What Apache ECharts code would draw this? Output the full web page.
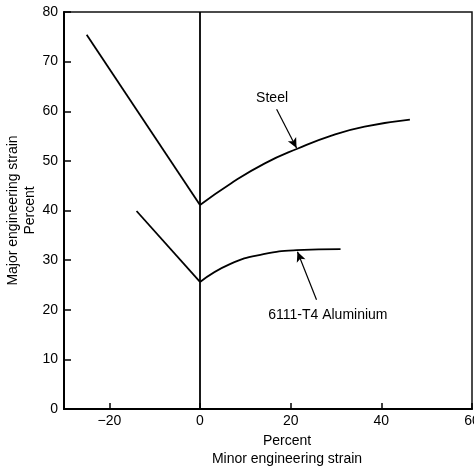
<!DOCTYPE html>
<html>
<head>
<meta charset="utf-8">
<script src="https://cdn.jsdelivr.net/npm/echarts@6/dist/echarts.min.js"></script>
<style>html,body{margin:0;padding:0;background:#fff;}#c{width:474px;height:468px;}</style>
</head>
<body>
<div id="c"></div>
<script>
// Data
const steelLeft = [[-25.0, 75.4], [0, 41.1]];
const steelRight = [[0, 41.1], [6.9, 45.5], [14.3, 49.5], [21.6, 52.5], [29.0, 55.1], [36.3, 56.9], [46.3, 58.3]];
const aluLeft = [[-14.0, 39.9], [0, 25.6]];
const aluRight = [[0, 25.6], [6.6, 29.2], [14.0, 31.2], [21.3, 32.0], [31.0, 32.2]];
const zeroLine = [[0, 0], [0, 80]];
const steelArrow = [[16.9, 60.4], [21.3, 52.6]];
const aluArrow = [[25.7, 22.0], [21.5, 31.7]];
const steelLabel = {text: 'Steel', pos: [15.9, 62.7]};
const aluLabel = {text: '6111-T4 Aluminium', pos: [28.2, 18.9]};
const xTicks = [-20, 0, 20, 40, 60];
const yTicks = [0, 10, 20, 30, 40, 50, 60, 70, 80];

const FONT = "'Liberation Sans', Arial, Helvetica, sans-serif";
const lineStyle = {color: '#000', width: 1.8};

function curve(name, data, smooth) {
  return {name, type: 'line', data, smooth, symbol: 'none', lineStyle, silent: true, z: 3};
}

const chart = echarts.init(document.getElementById('c'), null, {renderer: 'canvas'});
chart.setOption({
  animation: false,
  backgroundColor: '#fff',
  grid: {left: 64, right: 2, top: 12, bottom: 59, containLabel: false, outerBoundsMode: 'none',
    show: true, borderColor: '#111', borderWidth: 1.5, backgroundColor: 'transparent'},
  xAxis: {
    type: 'value', min: -30, max: 60,
    name: 'Percent\nMinor engineering strain',
    nameLocation: 'middle', nameGap: 23, nameMoveOverlap: false,
    nameTextStyle: {fontFamily: FONT, fontSize: 14, color: '#000', lineHeight: 18, padding: [0, 0, 0, 38]},
    axisLine: {show: true, onZero: false, lineStyle: {color: '#000', width: 2}},
    axisTick: {show: true, inside: true, length: 6, customValues: xTicks, lineStyle: {color: '#000', width: 1.5}},
    axisLabel: {customValues: xTicks, margin: 5, fontFamily: FONT, fontSize: 14, color: '#000',
      formatter: v => String(v).replace('-', '\u2212')},
    splitLine: {show: false}
  },
  yAxis: {
    type: 'value', min: 0, max: 80, interval: 10,
    name: 'Major engineering strain\nPercent',
    nameLocation: 'middle', nameGap: 25, nameMoveOverlap: false,
    nameTextStyle: {fontFamily: FONT, fontSize: 14, color: '#000', lineHeight: 17},
    axisLine: {show: true, onZero: false, lineStyle: {color: '#000', width: 2}},
    axisTick: {show: true, inside: true, length: 7, lineStyle: {color: '#000', width: 1.5}},
    axisLabel: {margin: 6, fontFamily: FONT, fontSize: 14, color: '#000'},
    splitLine: {show: false}
  },
  series: [
    curve('zero', zeroLine, false),
    curve('steelLeft', steelLeft, false),
    curve('steelRight', steelRight, 0.5),
    curve('aluLeft', aluLeft, false),
    curve('aluRight', aluRight, 0.5),
    {
      type: 'line', data: [], symbol: 'none', silent: true,
      markLine: {
        silent: true, animation: false,
        symbol: ['none', 'arrow'], symbolSize: [7, 10],
        lineStyle: {color: '#000', width: 1.2, type: 'solid'},
        label: {show: false},
        data: [
          [{coord: steelArrow[0]}, {coord: steelArrow[1]}],
          [{coord: aluArrow[0]}, {coord: aluArrow[1]}]
        ]
      },
      markPoint: {
        silent: true, animation: false,
        symbol: 'rect', symbolSize: 1, itemStyle: {color: 'transparent'},
        label: {show: true, position: 'inside', fontFamily: FONT, fontSize: 14, color: '#000',
          formatter: p => p.name},
        data: [
          {name: steelLabel.text, coord: steelLabel.pos},
          {name: aluLabel.text, coord: aluLabel.pos}
        ]
      }
    }
  ]
});
</script>
</body>
</html>
